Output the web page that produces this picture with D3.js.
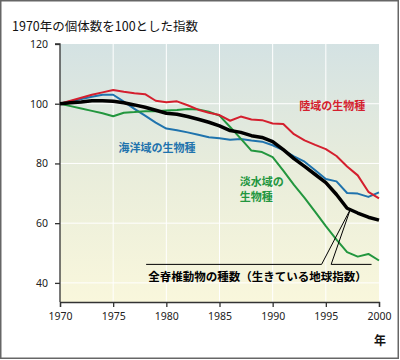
<!DOCTYPE html>
<html>
<head>
<meta charset="utf-8">
<script src="https://cdn.jsdelivr.net/npm/d3@7"></script>
<style>
  html, body { margin: 0; padding: 0; background: #fff; }
  svg { display: block; }
  text { font-family: "Noto Sans CJK JP", "Noto Sans", sans-serif; }
</style>
</head>
<body>
<svg id="chart" width="400" height="360"></svg>
<script>
// ---- data ----
const years = d3.range(1970, 2001);
const landSpecies = [100, 101, 102, 103, 103.8, 104.6, 104, 103.5, 103.2, 101, 100.5, 100.8, 99.5, 98, 97, 96.2, 94.3, 95.7, 94.7, 94.5, 93.4, 93.2, 89.8, 87.7, 86.2, 84.8, 82.5, 79, 76, 70.5, 68.3];
const marineSpecies = [100, 100.8, 101.6, 102.3, 103, 103, 100.7, 98.3, 96, 93.7, 91.7, 91.1, 90.4, 89.6, 88.8, 88.4, 87.9, 88.2, 87.7, 87.3, 86.1, 84.5, 82.4, 80.6, 77.7, 74.8, 74, 70.1, 69.9, 68.8, 70.3];
const freshwaterSpecies = [100, 99.2, 98.4, 97.6, 96.8, 95.8, 97, 97.2, 97.5, 97.5, 97.7, 97.9, 98.2, 98.1, 97.3, 96, 92.2, 88.3, 84.3, 83.8, 82.1, 77.6, 72.8, 68.5, 63.8, 59, 54.5, 50.3, 48.8, 49.7, 47.5];
const allVertebrates = [100, 100.3, 100.6, 101, 101, 100.8, 100.3, 99.6, 98.8, 97.8, 96.8, 96.5, 95.7, 94.8, 93.8, 92.6, 91, 90.4, 89.3, 88.7, 87.3, 84.6, 81.6, 79, 76.3, 73.6, 69.6, 65, 63.4, 62, 61];
const xTicks = [1970, 1975, 1980, 1985, 1990, 1995, 2000];
const yTicks = [40, 60, 80, 100, 120];
const titleText = "1970年の個体数を100とした指数";
const xUnit = "年";
const seriesNames = ["陸域の生物種", "海洋域の生物種", "淡水域の生物種", "全脊椎動物の種数（生きている地球指数）"];

// ---- layout ----
const svg = d3.select("#chart");
const W = 400, H = 360;
const pLeft = 60, pRight = 379, pTop = 44, pBottom = 302;

const x = d3.scaleLinear().domain([1970, 2000]).range([pLeft, pRight]);
const y = d3.scaleLinear().domain([33.6, 120]).range([pBottom, pTop]);

// gradient
const defs = svg.append("defs");
const grad = defs.append("linearGradient").attr("id", "bg").attr("x1", 0).attr("y1", 0).attr("x2", 0).attr("y2", 1);
grad.append("stop").attr("offset", "0%").attr("stop-color", "#d4e2e3");
grad.append("stop").attr("offset", "50%").attr("stop-color", "#e9eddb");
grad.append("stop").attr("offset", "100%").attr("stop-color", "#f9f7dc");

svg.append("rect").attr("x", 0).attr("y", 0).attr("width", W).attr("height", H).attr("fill", "#fff");

svg.append("rect")
  .attr("x", pLeft).attr("y", pTop)
  .attr("width", pRight - pLeft).attr("height", pBottom - pTop)
  .attr("fill", "url(#bg)");

// grid
const grid = svg.append("g").attr("stroke", "#fff").attr("stroke-width", 1);
grid.selectAll("line.v").data(xTicks.slice(1, -1)).join("line")
  .attr("x1", d => x(d)).attr("x2", d => x(d))
  .attr("y1", pTop).attr("y2", pBottom);
grid.selectAll("line.h").data(yTicks.filter(d => d < 120)).join("line")
  .attr("x1", pLeft).attr("x2", pRight)
  .attr("y1", d => y(d)).attr("y2", d => y(d));

// axes
const xAxis = svg.append("g").attr("transform", `translate(0,${pBottom})`)
  .call(d3.axisBottom(x).tickValues(xTicks).tickFormat(d3.format("d")).tickSize(5).tickPadding(6));
const yAxis = svg.append("g").attr("transform", `translate(${pLeft},0)`)
  .call(d3.axisLeft(y).tickValues(yTicks).tickSize(5).tickPadding(7));
[xAxis, yAxis].forEach(a => {
  a.select(".domain").attr("stroke", "#333").attr("stroke-width", 1.3);
  a.selectAll(".tick line").attr("stroke", "#333").attr("stroke-width", 1.3);
  a.selectAll(".tick text").attr("fill", "#222").style("font-size", "10.5px")
    .style("font-family", "'Noto Sans', sans-serif");
});
yAxis.select(".domain").attr("d", `M-5,${y(120)}H0V${pBottom}`);

// lines
const line = d3.line().x((d, i) => x(years[i])).y(d => y(d));
const series = [
  { values: marineSpecies, color: "#1f73ad", width: 2 },
  { values: freshwaterSpecies, color: "#22963e", width: 2 },
  { values: landSpecies, color: "#d41f2e", width: 2 },
  { values: allVertebrates, color: "#000", width: 3.5 }
];
svg.append("g").selectAll("path").data(series).join("path")
  .attr("d", d => line(d.values))
  .attr("fill", "none")
  .attr("stroke", d => d.color)
  .attr("stroke-width", d => d.width)
  .attr("stroke-linejoin", "round");

// labels
const lab = svg.append("g").style("font-size", "11px").style("font-weight", "bold");
lab.append("text").attr("x", x(1992.5)).attr("y", y(98)).attr("fill", "#d41f2e").text(seriesNames[0]);
lab.append("text").attr("x", x(1975.5)).attr("y", y(84)).attr("fill", "#1f73ad").text(seriesNames[1]);
lab.append("text").attr("x", x(1986.9)).attr("y", y(72.4)).attr("fill", "#22963e").text("淡水域の");
lab.append("text").attr("x", x(1986.9)).attr("y", y(67.4)).attr("fill", "#22963e").text("生物種");
lab.append("text").attr("x", x(1978.3)).attr("y", y(40.5)).attr("fill", "#000")
  .style("font-size", "11.5px").text(seriesNames[3]);

// callout pointer
const apexYear = 1997.3;
const apexVal = 64.6;
const calloutVal = 46.2;
svg.append("path")
  .attr("d", `M${x(1978.1)},${y(calloutVal)}H${x(1994.6)}L${x(apexYear)},${y(apexVal)}L${x(1995.5)},${y(calloutVal)}H${x(1999.3)}`)
  .attr("fill", "none").attr("stroke", "#000").attr("stroke-width", 1);

// title & unit
svg.append("text").attr("x", 12).attr("y", 31).attr("fill", "#111")
  .style("font-size", "12.5px").text(titleText);
svg.append("text").attr("x", 380).attr("y", 345).attr("text-anchor", "middle")
  .attr("fill", "#111").style("font-size", "12px").style("font-weight", "bold").text(xUnit);

// frame
svg.append("rect").attr("x", 0.75).attr("y", 0.75).attr("width", 397.5).attr("height", 357.5)
  .attr("fill", "none").attr("stroke", "#666").attr("stroke-width", 1.5);
</script>
</body>
</html>
